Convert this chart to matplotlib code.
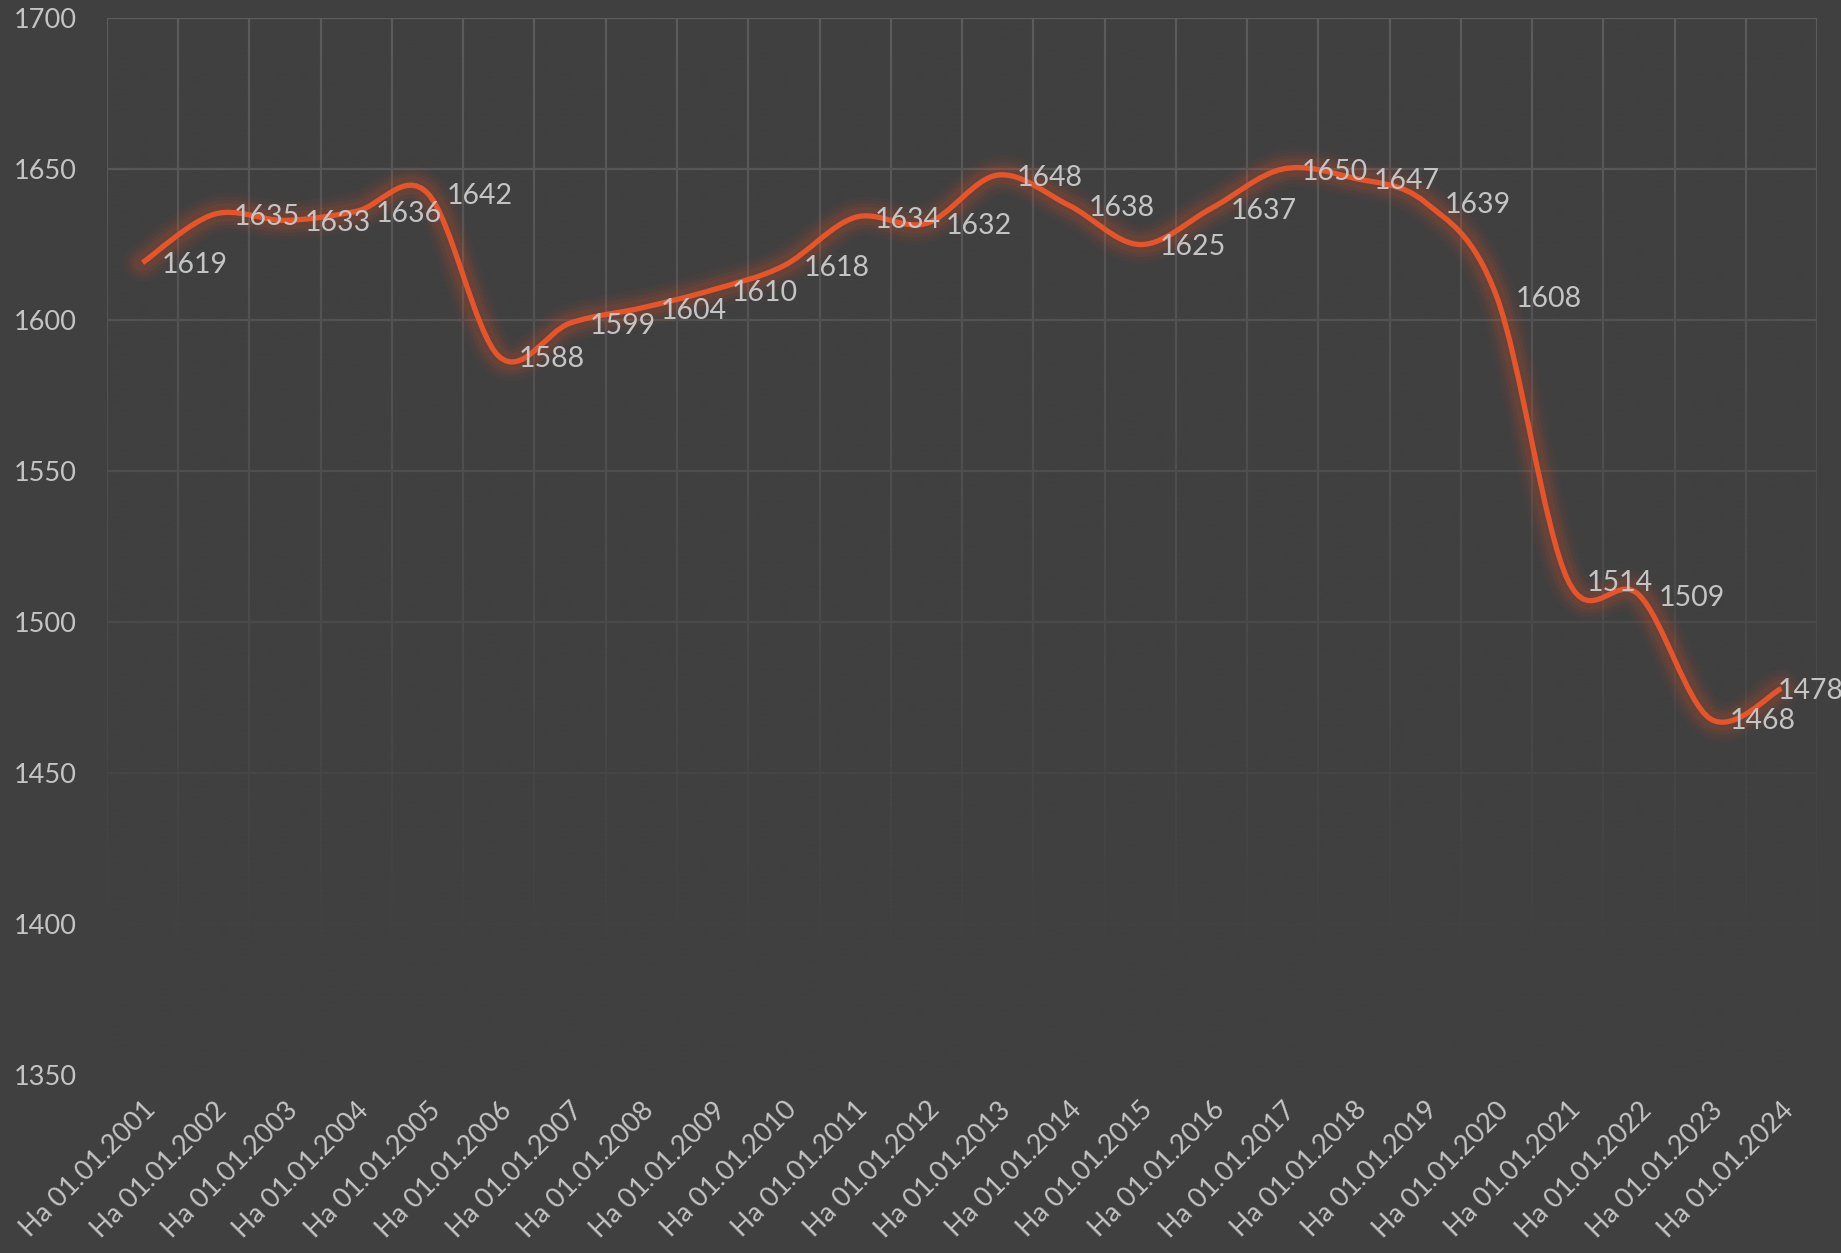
import numpy as np
import matplotlib
matplotlib.use("Agg")
from matplotlib import pyplot as plt
from matplotlib.path import Path
from matplotlib.patches import PathPatch

# data
years = list(range(2001, 2025))
labels = ["Ha 01.01.{0}".format(y) for y in years]
values = [1619, 1635, 1633, 1636, 1642, 1588, 1599, 1604, 1610, 1618,
          1634, 1632, 1648, 1638, 1625, 1637, 1650, 1647, 1639, 1608,
          1514, 1509, 1468, 1478]
y_ticks = [1350, 1400, 1450, 1500, 1550, 1600, 1650, 1700]

BG = "#404040"
GRID = "#5c5c5c"
LINE = "#e8542a"
TXT = "#c4c4c4"

plt.rcParams['font.family'] = ['Lato', 'DejaVu Sans']


def smooth_path(xs, ys):
	# excel style smoothed line: bezier with catmull-rom control points
	n = len(xs)
	verts = [(xs[0], ys[0])]
	codes = [Path.MOVETO]
	for i in range(n - 1):
		p0 = max(i - 1, 0)
		p3 = min(i + 2, n - 1)
		c1 = (xs[i] + (xs[i+1] - xs[p0]) / 6.0, ys[i] + (ys[i+1] - ys[p0]) / 6.0)
		c2 = (xs[i+1] - (xs[p3] - xs[i]) / 6.0, ys[i+1] - (ys[p3] - ys[i]) / 6.0)
		verts += [c1, c2, (xs[i+1], ys[i+1])]
		codes += [Path.CURVE4] * 3
	return Path(verts, codes)


fig = plt.figure(figsize=(18.41, 12.53), dpi=100, facecolor=BG)
ax = fig.add_axes([0.0581, 0.142, 0.9289, 0.8436])
ax.set_facecolor(BG)

x = np.arange(len(values))
ax.set_xlim(-0.5, len(values) - 0.5)
ax.set_ylim(1350, 1700)

# grid at category boundaries
for b in np.arange(-0.5, len(values), 1.0):
	ax.axvline(b, color=GRID, lw=1.6, zorder=0.5)
for t in y_ticks:
	ax.axhline(t, color=GRID, lw=1.6, zorder=0.5)

# fade the grid toward the bottom
ys_grad = np.linspace(1700, 1350, 400)
alpha = np.clip((1700 - ys_grad) / (1700 - 1385), 0, 1)
grad = np.zeros((len(ys_grad), 1, 4))
grad[:, 0, :3] = matplotlib.colors.to_rgb(BG)
grad[:, 0, 3] = alpha
ax.imshow(grad, extent=(-0.5, len(values) - 0.5, 1350, 1700), aspect='auto',
		  origin='upper', zorder=1, interpolation='bilinear')

# glow + line
path = smooth_path(list(x.astype(float)), [float(v) for v in values])
for lw, a in [(28, 0.04), (23, 0.05), (18, 0.07), (13, 0.09)]:
	ax.add_patch(PathPatch(path, facecolor='none', edgecolor=LINE, lw=lw,
						   alpha=a, capstyle='round', joinstyle='round', zorder=2))
ax.add_patch(PathPatch(path, facecolor='none', edgecolor=LINE, lw=3.8,
					   capstyle='butt', joinstyle='round', zorder=3))

# data labels
for i, v in enumerate(values):
	dx = 14 if i < len(values) - 1 else -3
	ax.annotate(str(v), (x[i], v), xytext=(dx, -2), textcoords='offset points',
				ha='left', va='center', color=TXT, fontsize=20.5, zorder=4)

ax.set_xticks(x)
ax.set_xticklabels(labels, rotation=45, ha='right', va='top',
				   rotation_mode='anchor', color=TXT, fontsize=19.5)
ax.set_yticks(y_ticks)
ax.set_yticklabels([str(t) for t in y_ticks], color=TXT, fontsize=19.5)
ax.tick_params(axis='x', length=0, pad=16)
ax.tick_params(axis='y', length=0, pad=22)
for s in ax.spines.values():
	s.set_visible(False)

fig.savefig("out.png", dpi=100, facecolor=BG)
